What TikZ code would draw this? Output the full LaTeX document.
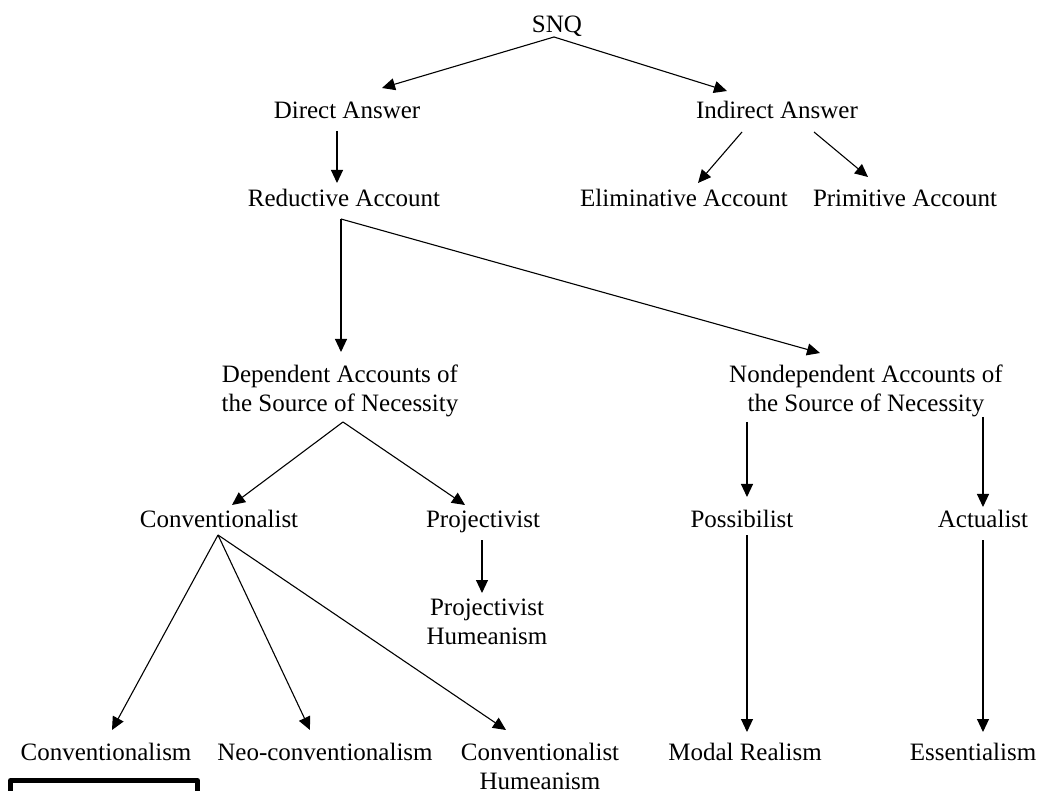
\documentclass[tikz,border=0pt]{standalone}
\usepackage{fontspec}
\setmainfont{Liberation Serif}
\usetikzlibrary{arrows.meta}
\tikzset{
  lbl/.style={anchor=base, inner sep=0pt, outer sep=0pt, align=center},
  arr/.style={->, line width=1.1pt}
}
\begin{document}
\begin{tikzpicture}[x=1pt, y=-1pt, font=\fontsize{25}{29}\selectfont, line join=round, >={Triangle[length=13pt,width=12pt]}]
				\useasboundingbox (0,0) rectangle (1042,791);
				% labels (two-line labels sit on their last line)
				\node (snq) at (557,33) [lbl]{SNQ};
				\node (direct) at (347,119) [lbl]{Direct Answer};
				\node (indirect) at (777,119) [lbl]{Indirect Answer};
				\node (reductive) at (344,207) [lbl]{Reductive Account};
				\node (elim) at (684,207) [lbl]{Eliminative Account};
				\node (prim) at (905,207) [lbl]{Primitive Account};
				\node (dep) at (340,412) [lbl]{Dependent Accounts of\\the Source of Necessity};
				\node (nondep) at (866,412) [lbl]{Nondependent Accounts of\\the Source of Necessity};
				\node (conv) at (219,527) [lbl]{Conventionalist};
				\node (proj) at (483,527) [lbl]{Projectivist};
				\node (poss) at (742,527) [lbl]{Possibilist};
				\node (actu) at (983,527) [lbl]{Actualist};
				\node (projh) at (487,644) [lbl]{Projectivist\\Humeanism};
				\node (cnism) at (106,760) [lbl]{Conventionalism};
				\node (neo) at (325,760) [lbl]{Neo-conventionalism};
				\node (convh) at (540,789) [lbl]{Conventionalist\\Humeanism};
				\node (modal) at (745,760) [lbl]{Modal Realism};
				\node (essen) at (973,760) [lbl]{Essentialism};
				% arrows
				\draw[arr] ([shift={(-3,4)}]snq.base)--([shift={(35,-31)}]direct.base);
				\draw[arr] ([shift={(-3,4)}]snq.base)--([shift={(-50,-28)}]indirect.base);
				\draw[arr] ([shift={(-10,12)}]direct.base)--([shift={(-7,-24)}]reductive.base);
				\draw[arr] ([shift={(-35,13)}]indirect.base)--([shift={(14,-24)}]elim.base);
				\draw[arr] ([shift={(37,13)}]indirect.base)--([shift={(-37,-30)}]prim.base);
				\draw[arr] ([shift={(-3,12)}]reductive.base)--([shift={(1,-60)}]dep.base);
				\draw[arr] ([shift={(-3,12)}]reductive.base)--([shift={(-46,-59)}]nondep.base);
				\draw[arr] ([shift={(3,10)}]dep.base)--([shift={(13,-22)}]conv.base);
				\draw[arr] ([shift={(3,10)}]dep.base)--([shift={(-18,-22)}]proj.base);
				\draw[arr] ([shift={(-119,10)}]nondep.base)--([shift={(5,-30)}]poss.base);
				\draw[arr] ([shift={(117,5)}]nondep.base)--([shift={(0,-20)}]actu.base);
				\draw[arr] ([shift={(-1,8)}]conv.base)--([shift={(6,-30)}]cnism.base);
				\draw[arr] ([shift={(-1,8)}]conv.base)--([shift={(-15,-30)}]neo.base);
				\draw[arr] ([shift={(-1,8)}]conv.base)--([shift={(-34,-59)}]convh.base);
				\draw[arr] ([shift={(-1,13)}]proj.base)--([shift={(-5,-51)}]projh.base);
				\draw[arr] ([shift={(5,8)}]poss.base)--([shift={(2,-28)}]modal.base);
				\draw[arr] ([shift={(0,13)}]actu.base)--([shift={(10,-28)}]essen.base);
				% box at the bottom
				\draw[line width=5pt] (10.5,800)--(10.5,780.5)--(197.5,780.5)--(197.5,800);
			\end{tikzpicture}
\end{document}
